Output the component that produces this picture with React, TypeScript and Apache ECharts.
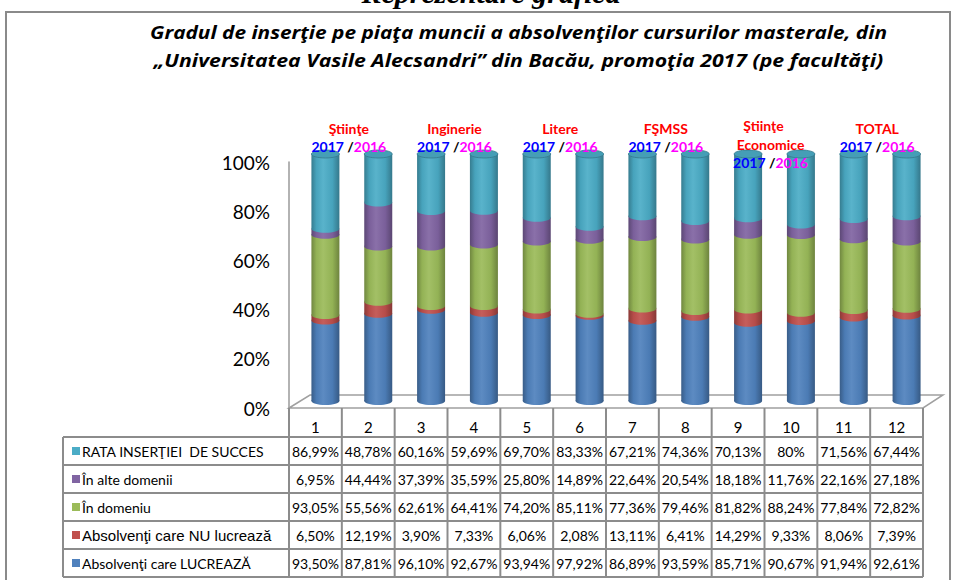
import React, { useEffect, useRef } from "react";
import * as echarts from "echarts";

// ---------------- data ----------------
const columnLabels = ["1", "2", "3", "4", "5", "6", "7", "8", "9", "10", "11", "12"];
const lucreaza = [93.5, 87.81, 96.1, 92.67, 93.94, 97.92, 86.89, 93.59, 85.71, 90.67, 91.94, 92.61];
const nuLucreaza = [6.5, 12.19, 3.9, 7.33, 6.06, 2.08, 13.11, 6.41, 14.29, 9.33, 8.06, 7.39];
const inDomeniu = [93.05, 55.56, 62.61, 64.41, 74.2, 85.11, 77.36, 79.46, 81.82, 88.24, 77.84, 72.82];
const alteDomenii = [6.95, 44.44, 37.39, 35.59, 25.8, 14.89, 22.64, 20.54, 18.18, 11.76, 22.16, 27.18];
const rataInsertiei = [86.99, 48.78, 60.16, 59.69, 69.7, 83.33, 67.21, 74.36, 70.13, 80, 71.56, 67.44];
const facultati = [["Ştiinţe"], ["Inginerie"], ["Litere"], ["FŞMSS"], ["Ştiinţe", "Economice"], ["TOTAL"]];
const yTickMax = 100;
const yTickStep = 20;

const seriesNames = [
  "Absolvenţi care LUCREAZĂ",
  "Absolvenţi care NU lucrează",
  "În domeniu",
  "În alte domenii",
  "RATA INSERŢIEI  DE SUCCES",
];
const seriesValues = [lucreaza, nuLucreaza, inDomeniu, alteDomenii, rataInsertiei];
const seriesColors = ["#4F81BD", "#C0504D", "#9BBB59", "#8064A2", "#4BACC6"];

const titleLines = [
  "Gradul de inserţie pe piaţa muncii a absolvenţilor cursurilor masterale, din",
  "„Universitatea Vasile Alecsandri” din Bacău, promoţia 2017 (pe facultăţi)",
];

// ---------------- layout ----------------
const AX_LEFT = 289;
const AX_RIGHT = 923;
const COL_W = (AX_RIGHT - AX_LEFT) / columnLabels.length;
const DEPTH_X = 10;
const TABLE_LEFT = 63;
const HEADER_TOP = 408;
const TABLE_TOP = 437;
const ROW_H = 28;

function shade(hex: string, f: number) {
  const n = parseInt(hex.slice(1), 16);
  const r = (n >> 16) & 255, g = (n >> 8) & 255, b = n & 255;
  const adj = (c: number) => Math.max(0, Math.min(255, Math.round(f >= 1 ? c + (255 - c) * (f - 1) : c * f)));
  return `rgb(${adj(r)},${adj(g)},${adj(b)})`;
}

function fmt(v: number) {
  return Number.isInteger(v) ? `${v}%` : `${v.toFixed(2).replace(".", ",")}%`;
}

function measure(text: string, font: string) {
  const ctx = document.createElement("canvas").getContext("2d");
  if (!ctx) return 0;
  ctx.font = font;
  return ctx.measureText(text).width;
}

export default function App() {
  const ref = useRef<HTMLDivElement>(null);

  useEffect(() => {
    if (!ref.current) return;
    const chart = echarts.init(ref.current, undefined, { renderer: "svg" });

    const totals = columnLabels.map((_, i) => seriesValues.reduce((s, arr) => s + arr[i], 0));
    const cum = columnLabels.map(() => 0);
    const stacked = seriesValues.map((arr) =>
      arr.map((v, i) => {
        const start = cum[i];
        const end = start + (v / totals[i]) * 100;
        cum[i] = end;
        return [i, start, end];
      })
    );

    const series = stacked.map((data, si) => {
      const color = seriesColors[si];
      const isTop = si === stacked.length - 1;
      const grad = new echarts.graphic.LinearGradient(0, 0, 1, 0, [
        { offset: 0, color: shade(color, 0.72) },
        { offset: 0.18, color: shade(color, 0.95) },
        { offset: 0.42, color: shade(color, 1.08) },
        { offset: 0.75, color: shade(color, 0.95) },
        { offset: 1, color: shade(color, 0.7) },
      ]);
      return {
        type: "custom",
        name: seriesNames[si],
        xAxisIndex: 1,
        yAxisIndex: 1,
        encode: { x: 0, y: [1, 2] },
        data,
        z: 2 + si,
        renderItem: (params: any, api: any) => {
          const idx = api.value(0);
          const pb = api.coord([idx, api.value(1)]);
          const pt = api.coord([idx, api.value(2)]);
          const bw = api.size([1, 0])[0] * 0.53;
          const cx = pb[0];
          const ry = 4;
          const children: any[] = [
            { type: "rect", shape: { x: cx - bw / 2, y: pt[1], width: bw, height: pb[1] - pt[1] }, style: { fill: grad } },
            { type: "ellipse", shape: { cx, cy: pb[1], rx: bw / 2, ry }, style: { fill: grad } },
          ];
          if (isTop) {
            children.push({
              type: "ellipse",
              shape: { cx, cy: pt[1], rx: bw / 2, ry },
              style: { fill: shade(color, 0.92), stroke: shade(color, 0.7), lineWidth: 0.8 },
            });
          }
          return { type: "group", children };
        },
      };
    });

    const g: any[] = [];
    // top cut title
    g.push({
      type: "text", x: 491, y: -8, z: 1,
      style: { text: "Reprezentare grafică", fontFamily: "Liberation Serif", fontSize: 30, fontWeight: "bold", fontStyle: "italic", fill: "#000", align: "center", verticalAlign: "middle" },
    });
    // frame
    g.push({ type: "rect", z: 0, shape: { x: 6, y: 12, width: 944, height: 620 }, style: { fill: "none", stroke: "#8a8a8a", lineWidth: 2 } });
    // title
    const titleFont = "Open Sans";
    const titleSize = 18.5;
    const titleTargets = [737, 730];
    titleLines.forEach((t, li) => {
      const w = measure(t, `italic bold ${titleSize}px "${titleFont}"`);
      const sx = w > 0 ? titleTargets[li] / w : 1;
      g.push({
        type: "text", x: 518.5, y: li === 0 ? 32 : 60, z: 1, scaleX: sx,
        style: { text: t, fontFamily: titleFont, fontSize: titleSize, fontWeight: "bold", fontStyle: "italic", fill: "#000", align: "center", verticalAlign: "middle" },
      });
    });
    // floor
    g.push({
      type: "polygon", z: 0,
      shape: { points: [[AX_LEFT, HEADER_TOP], [AX_LEFT + 21, HEADER_TOP - 13], [AX_RIGHT + 20, HEADER_TOP - 13], [AX_RIGHT, HEADER_TOP]] },
      style: { fill: "#fff", stroke: "#a0a0a0", lineWidth: 1.5 },
    });
    // faculty annotations
    facultati.forEach((lines, k) => {
      const cx = AX_LEFT + DEPTH_X + (2 * k + 1) * COL_W - 3;
      const multi = lines.length > 1;
      const y0 = multi ? 125 : 128;
      lines.forEach((t, li) => {
        g.push({
          type: "text", x: cx + (multi ? (li === 0 ? -8 : -1) : 0), y: y0 + li * 19, z: 50,
          style: { text: t, fontFamily: "Lato", fontSize: 14, fontWeight: "bold", fill: "#FF0000", align: "center", verticalAlign: "middle" },
        });
      });
      g.push({
        type: "text", x: cx + (multi ? -1 : 0), y: y0 + lines.length * 18.5, z: 50,
        style: {
          text: "{b|2017} {k|/}{m|2016}", align: "center", verticalAlign: "middle",
          rich: {
            b: { fontFamily: "Lato", fontSize: 14, fontWeight: "bold", fill: "#0000FF" },
            k: { fontFamily: "Lato", fontSize: 14, fontWeight: "bold", fill: "#000" },
            m: { fontFamily: "Lato", fontSize: 14, fontWeight: "bold", fill: "#FF00FF" },
          },
        },
      });
    });
    // table lines
    const LINE = { stroke: "#8c8c8c", lineWidth: 2 };
    const tableBottom = TABLE_TOP + ROW_H * seriesNames.length;
    for (let k = 0; k <= columnLabels.length; k++) {
      const x = AX_LEFT + k * COL_W;
      g.push({ type: "line", z: 1, shape: { x1: x, y1: HEADER_TOP, x2: x, y2: tableBottom }, style: LINE });
    }
    g.push({ type: "line", z: 1, shape: { x1: TABLE_LEFT, y1: TABLE_TOP, x2: TABLE_LEFT, y2: tableBottom }, style: LINE });
    for (let r = 0; r <= seriesNames.length; r++) {
      const y = TABLE_TOP + r * ROW_H;
      g.push({ type: "line", z: 1, shape: { x1: TABLE_LEFT, y1: y, x2: AX_RIGHT, y2: y }, style: LINE });
    }
    // header numbers
    columnLabels.forEach((c, i) => {
      g.push({
        type: "text", z: 1, x: AX_LEFT + (i + 0.5) * COL_W, y: 427,
        style: { text: c, fontFamily: "Lato", fontSize: 15, fill: "#000", align: "center", verticalAlign: "middle" },
      });
    });
    // rows (top row = last series)
    for (let r = 0; r < seriesNames.length; r++) {
      const si = seriesNames.length - 1 - r;
      const cy = TABLE_TOP + r * ROW_H + ROW_H / 2;
      g.push({ type: "rect", z: 1, shape: { x: 72, y: cy - 4, width: 8, height: 8 }, style: { fill: seriesColors[si] } });
      const isNu = si === 1;
      g.push({
        type: "text", z: 1, x: 82, y: cy,
        style: { text: seriesNames[si], fontFamily: isNu ? "Liberation Sans" : "Lato", fontSize: isNu ? 15 : 14, fill: "#000", align: "left", verticalAlign: "middle" },
      });
      seriesValues[si].forEach((v, i) => {
        g.push({
          type: "text", z: 1, x: AX_LEFT + (i + 0.5) * COL_W, y: cy,
          style: { text: fmt(v), fontFamily: "Lato", fontSize: 14, fill: "#000", align: "center", verticalAlign: "middle" },
        });
      });
    }

    chart.setOption({
      animation: false,
      backgroundColor: "#ffffff",
      grid: [
        { left: AX_LEFT, top: 162, width: AX_RIGHT - AX_LEFT, height: 246 },
        { left: AX_LEFT + DEPTH_X, top: 154, width: AX_RIGHT - AX_LEFT, height: 247 },
      ],
      xAxis: [
        { type: "category", gridIndex: 0, data: columnLabels, show: false },
        { type: "category", gridIndex: 1, data: columnLabels, show: false },
      ],
      yAxis: [
        {
          type: "value", gridIndex: 0, min: 0, max: yTickMax, interval: yTickStep,
          axisLine: { show: true, lineStyle: { color: "#9a9a9a", width: 1.5 } },
          axisTick: { show: false },
          splitLine: { show: false },
          axisLabel: { formatter: "{value}%", fontSize: 19, color: "#000", fontFamily: "Lato", margin: 19 },
        },
        { type: "value", gridIndex: 1, min: 0, max: yTickMax, show: false },
      ],
      graphic: g,
      series,
    });

    return () => chart.dispose();
  }, []);

  return <div ref={ref} style={{ position: "fixed", left: 0, top: 0, width: 955, height: 580 }} />;
}
